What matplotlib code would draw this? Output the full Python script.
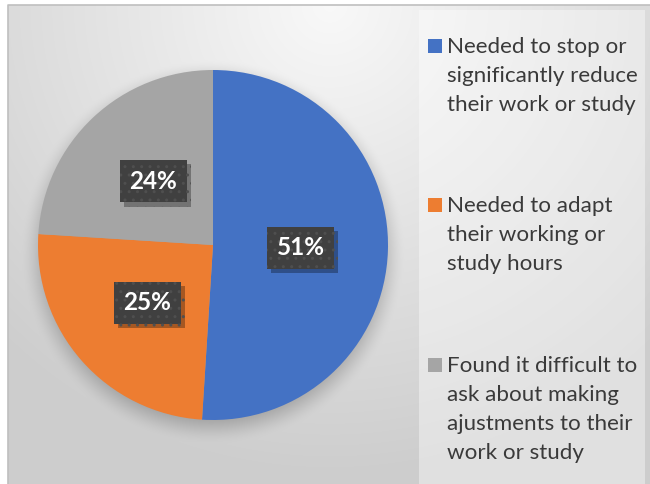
import numpy as np
import matplotlib
matplotlib.use("Agg")
import matplotlib.pyplot as plt
from matplotlib.patches import Rectangle
from matplotlib import patheffects as pe

# Share of respondents by the adjustment they needed
categories = [
    "Needed to stop or\nsignificantly reduce\ntheir work or study",
    "Needed to adapt\ntheir working or\nstudy hours",
    "Found it difficult to\nask about making\najustments to their\nwork or study",
]
shares = [51, 25, 24]
colors = ["#4472C4", "#ED7D31", "#A5A5A5"]

W, H = 650, 484
pie_cx, pie_cy, pie_r = 213, 245, 175

fig = plt.figure(figsize=(W / 100, H / 100), dpi=100)

# background: soft radial gradient with a blurred shadow under the pie
bg = fig.add_axes([0, 0, 1, 1])
bg.set_xlim(0, W)
bg.set_ylim(H, 0)
bg.axis("off")

yy, xx = np.mgrid[0:H, 0:W] + 0.5
d = np.hypot(xx - 330, (yy - 5) * 1.0)
img = 0.975 - 0.17 * np.clip(d / 470, 0, 1)
ds = np.hypot(xx - pie_cx, yy - (pie_cy + 7))
t = np.clip((pie_r + 18 - ds) / 36, 0, 1)
shadow = t * t * (3 - 2 * t)
img = img * (1 - 0.25 * shadow)
img[:, :8] = 1.0
img[:5, :] = 1.0
bg.imshow(np.dstack([img] * 3), extent=(0, W, H, 0), interpolation="bilinear", zorder=0)
bg.plot([7.5, 7.5, W], [H, 4.5, 4.5], color="#bfbfbf", lw=1.2, zorder=1)

# legend panel
bg.add_patch(Rectangle((419, 10), 226, H - 10, facecolor="white", alpha=0.4,
                       edgecolor="none", zorder=1))

first_baselines = [53, 212, 372]
line_gap = 29
for label, col, y0 in zip(categories, colors, first_baselines):
    bg.add_patch(Rectangle((428, y0 - 14), 14, 14, facecolor=col, edgecolor="none", zorder=2))
    for i, line in enumerate(label.split("\n")):
        bg.text(447, y0 + i * line_gap, line, fontsize=16.1, family="Lato",
                color="#3a3a3a", va="baseline", ha="left", zorder=3)

# pie
ax = fig.add_axes([(pie_cx - pie_r) / W, (H - pie_cy - pie_r) / H,
                   2 * pie_r / W, 2 * pie_r / H])
wedges, texts, autotexts = ax.pie(
    shares, colors=colors, startangle=90, counterclock=False,
    autopct="%d%%", pctdistance=0.5,
    wedgeprops=dict(linewidth=0),
    textprops=dict(color="white", fontsize=17.5, fontweight="bold", family="Lato"),
)
ax.set_xlim(-1, 1)
ax.set_ylim(-1, 1)
ax.set_aspect("equal")
ax.axis("off")

for at in autotexts:
    at.set_bbox(dict(boxstyle="square,pad=0.4", facecolor="#404040",
                     edgecolor="#4f4f4f", linewidth=0, hatch=".."))
    at.get_bbox_patch().set_path_effects([
        pe.SimplePatchShadow(offset=(3, -3), shadow_rgbFace="black", alpha=0.3),
        pe.Normal(),
    ])

fig.savefig("out.png", dpi=100)
